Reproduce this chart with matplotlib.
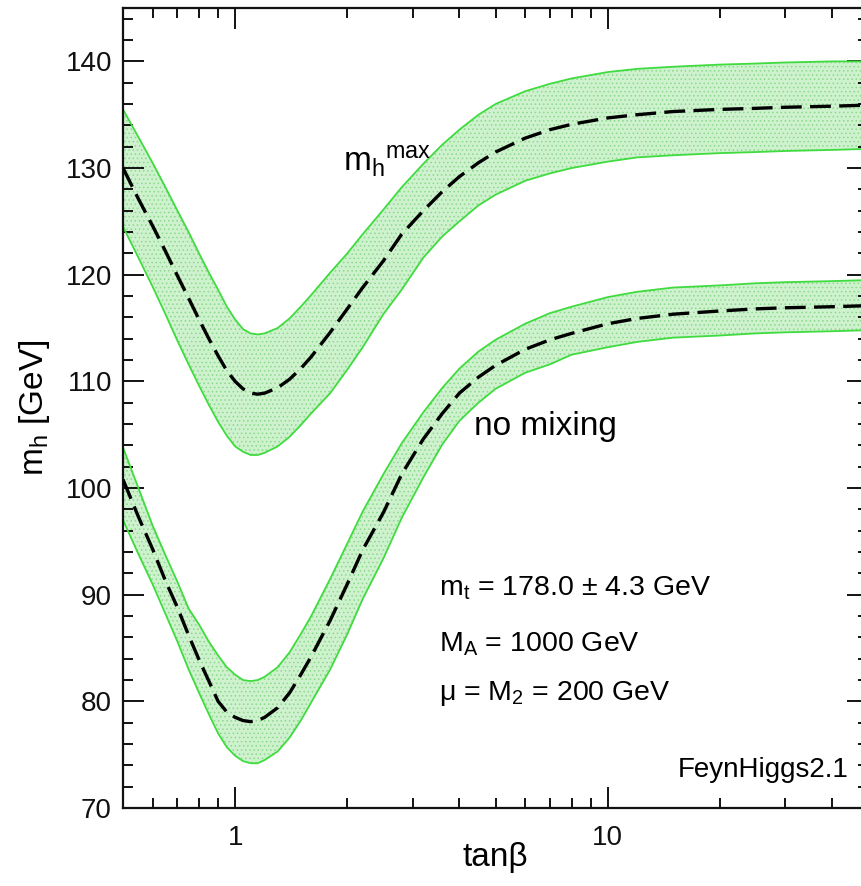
"""m_h vs tan(beta) bands, mhmax and no-mixing scenarios."""
import matplotlib
matplotlib.use("Agg")
import matplotlib.pyplot as plt
from matplotlib.ticker import FixedLocator, FixedFormatter, NullFormatter, MultipleLocator

plt.rcParams.update({
    "font.family": "Liberation Sans",
    "mathtext.fontset": "custom",
    "mathtext.rm": "Liberation Sans",
    "mathtext.it": "Liberation Sans",
    "mathtext.bf": "Liberation Sans:bold",
    "lines.scale_dashes": False,
    "hatch.linewidth": 0.6,
})

# ----- data -----
tanb = [0.5, 0.55, 0.6, 0.65, 0.7, 0.75, 0.8, 0.85, 0.9, 0.95,
        1.0, 1.05, 1.1, 1.15, 1.2, 1.3, 1.4, 1.5, 1.6, 1.8,
        2.0, 2.2, 2.5, 2.8, 3.2, 3.6, 4.0, 4.5, 5, 6,
        7, 8, 10, 12, 15, 20, 25, 30, 40, 50]

# m_h^max scenario: upper edge, central, lower edge
mhmax_hi = [135.5, 132.9, 130.5, 128.2, 126.0, 124.0, 122.0, 120.2, 118.6, 117.0,
            115.8, 114.9, 114.5, 114.4, 114.5, 115.0, 115.9, 117.0, 118.1, 120.2,
            122.0, 123.8, 126.1, 128.2, 130.4, 132.2, 133.6, 135.0, 136.0, 137.2,
            137.9, 138.4, 139.0, 139.3, 139.5, 139.7, 139.8, 139.9, 140.0, 140.0]
mhmax_mid = [130.0, 127.1, 124.6, 122.2, 119.9, 117.8, 115.8, 114.0, 112.4, 111.0,
             110.0, 109.3, 108.9, 108.8, 108.9, 109.4, 110.2, 111.2, 112.3, 114.6,
             116.8, 118.8, 121.3, 123.8, 126.0, 127.8, 129.2, 130.5, 131.5, 132.8,
             133.6, 134.1, 134.7, 135.0, 135.3, 135.5, 135.6, 135.7, 135.8, 135.9]
mhmax_lo = [124.5, 121.6, 118.9, 116.3, 113.8, 111.6, 109.6, 107.8, 106.2, 104.9,
            103.9, 103.4, 103.1, 103.1, 103.3, 103.9, 104.8, 105.9, 107.0, 108.9,
            111.1, 113.2, 116.3, 118.6, 121.6, 123.6, 125.0, 126.5, 127.5, 128.8,
            129.5, 130.0, 130.6, 131.0, 131.2, 131.4, 131.5, 131.6, 131.7, 131.8]

# no-mixing scenario: upper edge, central, lower edge
nomix_hi = [103.8, 100.0, 96.5, 93.7, 91.2, 88.7, 87.2, 85.6, 84.3, 83.2,
            82.5, 82.0, 81.9, 82.0, 82.3, 83.2, 84.6, 86.3, 88.0, 91.5,
            94.8, 97.8, 101.3, 104.2, 107.1, 109.4, 111.2, 112.8, 113.9, 115.4,
            116.4, 117.0, 117.9, 118.4, 118.8, 119.0, 119.2, 119.3, 119.4, 119.5]
nomix_mid = [100.8, 97.3, 94.3, 91.3, 88.8, 86.2, 83.9, 81.9, 80.0, 79.0,
             78.5, 78.2, 78.1, 78.2, 78.5, 79.4, 80.8, 82.5, 84.2, 87.6,
             91.0, 94.2, 97.7, 101.3, 104.6, 107.0, 108.9, 110.4, 111.5, 113.0,
             113.9, 114.5, 115.4, 115.9, 116.3, 116.6, 116.8, 116.9, 117.0, 117.1]
nomix_lo = [97.0, 93.8, 91.0, 88.2, 85.6, 83.0, 80.8, 78.8, 77.0, 75.7,
            74.9, 74.4, 74.2, 74.2, 74.5, 75.3, 76.6, 78.2, 79.9, 83.0,
            86.3, 89.6, 93.4, 97.2, 101.0, 104.1, 106.3, 108.0, 109.3, 110.8,
            111.6, 112.5, 113.2, 113.7, 114.1, 114.3, 114.5, 114.6, 114.7, 114.8]

BAND_FACE = "#cdf2cd"
BAND_DOTS = "#8ed88e"
BAND_EDGE = "#3fdb3f"

fig = plt.figure(figsize=(8.62, 8.86), dpi=100)
ax = fig.add_axes([0.1427, 0.088, 0.8643, 0.9029])

for lo, mid, hi in [(mhmax_lo, mhmax_mid, mhmax_hi), (nomix_lo, nomix_mid, nomix_hi)]:
    ax.fill_between(tanb, lo, hi, facecolor=BAND_FACE, edgecolor=BAND_DOTS,
                    linewidth=0, hatch="....", zorder=1)
    ax.plot(tanb, hi, color=BAND_EDGE, lw=1.3, zorder=2)
    ax.plot(tanb, lo, color=BAND_EDGE, lw=1.3, zorder=2)
    ax.plot(tanb, mid, color="black", lw=2.4, linestyle=(0, (15, 6)), zorder=3)

ax.set_xscale("log")
ax.set_xlim(0.5, 50)
ax.set_ylim(70, 145)

ax.xaxis.set_major_locator(FixedLocator([1, 10]))
ax.xaxis.set_major_formatter(FixedFormatter(["1", "10"]))
ax.xaxis.set_minor_locator(FixedLocator([0.5, 0.6, 0.7, 0.8, 0.9, 2, 3, 4, 5, 6, 7, 8, 9, 20, 30, 40]))
ax.xaxis.set_minor_formatter(NullFormatter())
ax.yaxis.set_major_locator(MultipleLocator(10))
ax.yaxis.set_minor_locator(MultipleLocator(2))

ax.tick_params(which="both", direction="in", top=True, right=True, width=1.4, colors="#111")
ax.tick_params(which="major", length=15, labelsize=20)
ax.tick_params(which="minor", length=7.5)
ax.tick_params(axis="x", which="major", pad=12)
ax.tick_params(axis="y", which="major", pad=8)
for sp in ax.spines.values():
    sp.set_linewidth(1.6)
    sp.set_color("#111")

ax.set_xlabel("tanβ", fontsize=24, labelpad=-6)
ax.set_ylabel(r"m$_\mathregular{h}$ [GeV]", fontsize=24, labelpad=10)

ax.text(1.95, 129.7, r"m$_\mathregular{h}{}^\mathregular{max}$", fontsize=24)
ax.text(4.37, 105.0, "no mixing", fontsize=24)
ax.text(3.53, 89.9, r"m$_\mathregular{t}$ = 178.0 ± 4.3 GeV", fontsize=20.5)
ax.text(3.53, 84.7, r"M$_\mathregular{A}$ = 1000 GeV", fontsize=20.5)
ax.text(3.53, 80.1, r"μ = M$_\mathregular{2}$ = 200 GeV", fontsize=20.5)
ax.text(44.4, 72.9, "FeynHiggs2.1", fontsize=20, ha="right")

fig.savefig("out.png", dpi=100)
